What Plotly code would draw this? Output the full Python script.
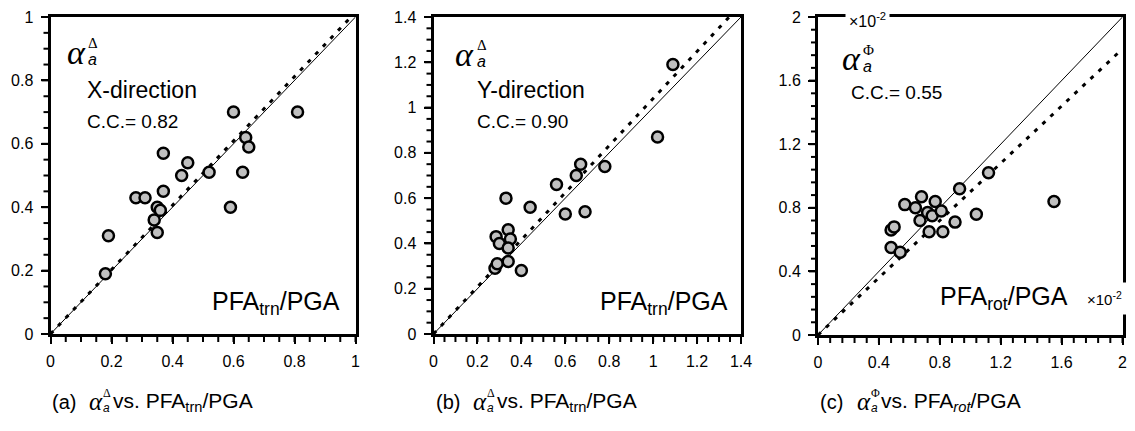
import plotly.graph_objects as go

W, H = 1135, 431          # window size
OFF = 8                   # default page body margin
FW, FH = W - OFF, H - OFF  # figure size that fits the window

# ---------------- data ----------------
a_x = [0.18, 0.19, 0.28, 0.31, 0.34, 0.35, 0.35, 0.36, 0.37, 0.37, 0.43, 0.45, 0.52, 0.59, 0.60, 0.63, 0.64, 0.65, 0.81]
a_y = [0.19, 0.31, 0.43, 0.43, 0.36, 0.32, 0.40, 0.39, 0.45, 0.57, 0.50, 0.54, 0.51, 0.40, 0.70, 0.51, 0.62, 0.59, 0.70]
b_x = [0.28, 0.29, 0.285, 0.30, 0.33, 0.34, 0.35, 0.34, 0.34, 0.40, 0.44, 0.56, 0.60, 0.65, 0.67, 0.69, 0.78, 1.02, 1.09]
b_y = [0.29, 0.31, 0.43, 0.40, 0.60, 0.46, 0.42, 0.38, 0.32, 0.28, 0.56, 0.66, 0.53, 0.70, 0.75, 0.54, 0.74, 0.87, 1.19]
c_x = [0.48, 0.48, 0.50, 0.54, 0.57, 0.64, 0.68, 0.67, 0.72, 0.73, 0.75, 0.77, 0.81, 0.82, 0.90, 0.93, 1.04, 1.12, 1.55]
c_y = [0.55, 0.66, 0.68, 0.52, 0.82, 0.80, 0.87, 0.72, 0.77, 0.65, 0.75, 0.84, 0.78, 0.65, 0.71, 0.92, 0.76, 1.02, 0.84]

ranges = [1.0, 1.4, 2.0]
fit_slopes = [1.015, 1.04, 0.90]
cc_labels = ["C.C.= 0.82", "C.C.= 0.90", "C.C.= 0.55"]
dir_labels = ["X-direction", "Y-direction", None]

SANS = "Liberation Sans, Arial, sans-serif"
NARROW = "Liberation Sans Narrow, Arial Narrow, Liberation Sans, Arial, sans-serif"
SERIF = "Liberation Serif, Times New Roman, serif"


def px(x):
    return (x - OFF) / FW


def py(y):
    return 1 - (y - OFF) / FH


# pixel boxes of plot areas in window coords (left, right, top, bottom)
boxes = [(50.5, 355.5, 17, 334), (433.5, 741, 17, 334), (818, 1122.5, 17, 335)]
major = [0.2, 0.2, 0.4]
minor = [0.05, 0.05, 0.08]

fig = go.Figure()
series = [(a_x, a_y), (b_x, b_y), (c_x, c_y)]
for i, (xs, ys) in enumerate(series):
    sfx = "" if i == 0 else str(i + 1)
    r = ranges[i]
    fig.add_trace(go.Scatter(x=[0, r], y=[0, r], mode="lines",
                             line=dict(color="black", width=1),
                             xaxis="x" + sfx, yaxis="y" + sfx, showlegend=False,
                             hoverinfo="skip"))
    s = fit_slopes[i]
    xe = min(r, r / s)
    fig.add_trace(go.Scatter(x=[0, xe], y=[0, s * xe], mode="lines",
                             line=dict(color="black", width=3, dash="4px,7px"),
                             xaxis="x" + sfx, yaxis="y" + sfx, showlegend=False,
                             hoverinfo="skip"))
    fig.add_trace(go.Scatter(x=xs, y=ys, mode="markers",
                             marker=dict(size=11, color="#c0c0c0",
                                         line=dict(color="black", width=2.5)),
                             xaxis="x" + sfx, yaxis="y" + sfx, showlegend=False,
                             cliponaxis=False))

layout = dict(width=FW, height=FH, margin=dict(l=0, r=0, t=0, b=0, autoexpand=False),
              paper_bgcolor="white", plot_bgcolor="white", showlegend=False)

shapes = []
for i in range(3):
    sfx = "" if i == 0 else str(i + 1)
    l, rr, t, b = boxes[i]
    r = ranges[i]
    common = dict(range=[0, r], tick0=0, dtick=major[i], ticks="outside",
                  ticklen=7, tickwidth=2, tickcolor="black", showline=True,
                  linewidth=3, linecolor="black", mirror=True, showgrid=False,
                  zeroline=False, automargin=False, ticklabelstandoff=4)
    layout["xaxis" + sfx] = dict(common, domain=[px(l), px(rr)], anchor="y" + sfx,
                                 tickfont=dict(family=NARROW, size=16, color="black"))
    layout["yaxis" + sfx] = dict(common, domain=[py(b), py(t)], anchor="x" + sfx,
                                 tickfont=dict(family=SANS, size=16, color="black"))

    # tick marks along the axis scale (every minor step), drawn as shapes
    n = int(round(r / minor[i]))
    per = int(round(major[i] / minor[i]))
    for k in range(n + 1):
        v = round(k * minor[i], 6)
        is_major = (k % per == 0)
        # x-axis tick (below the bottom line)
        shapes.append(dict(type="line", xref="x" + sfx, yref="paper",
                           x0=v, x1=v, y0=py(b + 1), y1=py(b + 8),
                           line=dict(color="black", width=2), layer="above"))
        # y-axis tick (left of the left line)
        ln = 8 if is_major else 6
        shapes.append(dict(type="line", xref="paper", yref="y" + sfx,
                           x0=px(l - 1), x1=px(l - 1 - ln), y0=v, y1=v,
                           line=dict(color="black", width=2), layer="above"))

ann = []


def A(text, x, y, size, family=SANS, xanchor="left", yanchor="middle", **kw):
    d = dict(text=text, x=px(x), y=py(y), xref="paper", yref="paper",
             showarrow=False, xanchor=xanchor, yanchor=yanchor,
             font=dict(family=family, size=size, color="black"))
    d.update(kw)
    ann.append(d)


alpha_pos = [(76, 52, "Δ"), (465, 54, "Δ"), (851, 59, "Φ")]
for (x, y, sup) in alpha_pos:
    A("<i>α</i>", x, y, 34, SERIF, xanchor="center")
    A("<i>a</i>", x + 10, y + 8, 16, SANS, xanchor="left")
    A(sup, x + 10, y - 9, 15, SERIF, xanchor="left")

A(dir_labels[0], 85, 90, 23)
A(dir_labels[1], 475, 90, 23)
A(cc_labels[0], 85, 122, 19)
A(cc_labels[1], 475, 122, 19)
A(cc_labels[2], 849, 93, 19)
A("PFA<sub>trn</sub>/PGA", 342, 303, 25, xanchor="right")
A("PFA<sub>trn</sub>/PGA", 730, 303, 25, xanchor="right")
A("PFA<sub>rot</sub>/PGA", 1070, 298, 25, xanchor="right")
A("×10<sup>-2</sup>", 868, 20, 16, xanchor="center", bgcolor="white", borderpad=3)
A("×10<sup>-2</sup>", 1104, 298, 15, xanchor="center", bgcolor="white", borderpad=6)

caps = [(50, "(a)", "Δ", "vs. PFA<sub>trn</sub>/PGA"),
        (434, "(b)", "Δ", "vs. PFA<sub>trn</sub>/PGA"),
        (818, "(c)", "Φ", "vs. PFA<sub><i>rot</i></sub>/PGA")]
for (x0, lab, sup, rest) in caps:
    A(lab, x0, 402, 20, NARROW)
    A("<i>α</i>", x0 + 37, 401, 25, SERIF)
    A("<i>a</i>", x0 + 51, 408, 12, SANS)
    A(sup, x0 + 51, 393, 12, SERIF)
    A(rest, x0 + 61, 402, 21, NARROW)

layout["annotations"] = ann
layout["shapes"] = shapes
fig.update_layout(**layout)
fig.write_html("out.html")
